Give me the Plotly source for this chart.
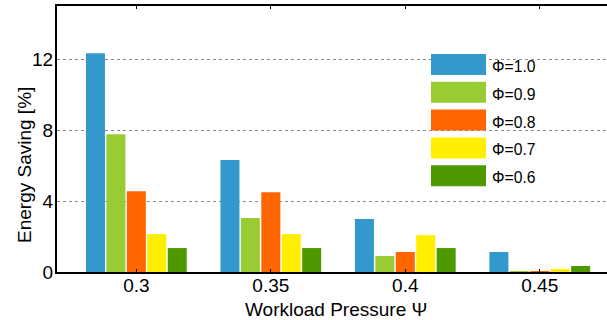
import plotly.graph_objects as go

# Workload pressure levels (x categories)
pressures = ["0.3", "0.35", "0.4", "0.45"]

# Energy saving [%] for each Phi setting
phi_labels = ["Φ=1.0", "Φ=0.9", "Φ=0.8", "Φ=0.7", "Φ=0.6"]
saving_phi_10 = [12.33, 6.31, 2.99, 1.13]
saving_phi_09 = [7.77, 3.04, 0.90, 0.03]
saving_phi_08 = [4.56, 4.50, 1.13, 0.05]
saving_phi_07 = [2.14, 2.14, 2.08, 0.17]
saving_phi_06 = [1.35, 1.35, 1.35, 0.34]

series = [saving_phi_10, saving_phi_09, saving_phi_08, saving_phi_07, saving_phi_06]
colors = ["#3399CC", "#99CC33", "#FF6600", "#FFEE00", "#4D9900"]

y_ticks = [0, 4, 8, 12]

FONT = "Liberation Sans, Arial, Helvetica, sans-serif"

fig = go.Figure()
for name, vals, col in zip(phi_labels, series, colors):
    fig.add_trace(go.Bar(x=pressures, y=vals, name=name,
                         marker=dict(color=col, line=dict(width=0)),
                         showlegend=False))

# Custom legend with wide colour swatches
legend_top = 54
row_step = 27.8
sw_h = 21
for i, (name, col) in enumerate(zip(phi_labels, colors)):
    y0 = legend_top + i * row_step
    fig.add_shape(type="rect", xref="paper", yref="paper",
                  x0=(431 - 57) / 550, x1=(486 - 57) / 550,
                  y0=1 - (y0 + sw_h - 6) / 266, y1=1 - (y0 - 6) / 266,
                  fillcolor=col, line=dict(width=0), layer="above")
    fig.add_annotation(xref="paper", yref="paper",
                       x=(490 - 57) / 550, y=1 - (y0 + sw_h / 2 + 2 - 6) / 266,
                       text=name, showarrow=False, xanchor="left", yanchor="middle",
                       font=dict(family=FONT, size=15.7, color="black"))

# Axis titles
fig.add_annotation(xref="paper", yref="paper", x=(336 - 57) / 550, y=1 - (309 - 6) / 266,
                   text="Workload Pressure Ψ", showarrow=False,
                   xanchor="center", yanchor="middle",
                   font=dict(family=FONT, size=19, color="black"))
fig.add_annotation(xref="paper", yref="paper", x=(24 - 57) / 550, y=1 - (165 - 6) / 266,
                   text="Energy Saving [%]", showarrow=False, textangle=-90,
                   xanchor="center", yanchor="middle",
                   font=dict(family=FONT, size=19, color="black"))

fig.update_layout(
    width=607, height=320,
    margin=dict(l=57, r=0, t=6, b=48),
    paper_bgcolor="white", plot_bgcolor="white",
    barmode="group", bargap=0.24, bargroupgap=0.07,
    font=dict(family=FONT, size=19, color="black"),
    xaxis=dict(type="category", range=[-0.59, 3.5],
               showline=True, linecolor="black", linewidth=2, mirror="ticks",
               ticks="inside", ticklen=3, tickcolor="black",
               ticklabelstandoff=-5,
               showgrid=False, tickfont=dict(size=19)),
    yaxis=dict(range=[0, 15], tickvals=y_ticks,
               showline=True, linecolor="black", linewidth=2,
               showgrid=True, gridcolor="#888", griddash="dot", gridwidth=1,
               zeroline=False, ticks="", ticklabelstandoff=-2,
               tickfont=dict(size=19)),
)

fig.write_html("out.html")
